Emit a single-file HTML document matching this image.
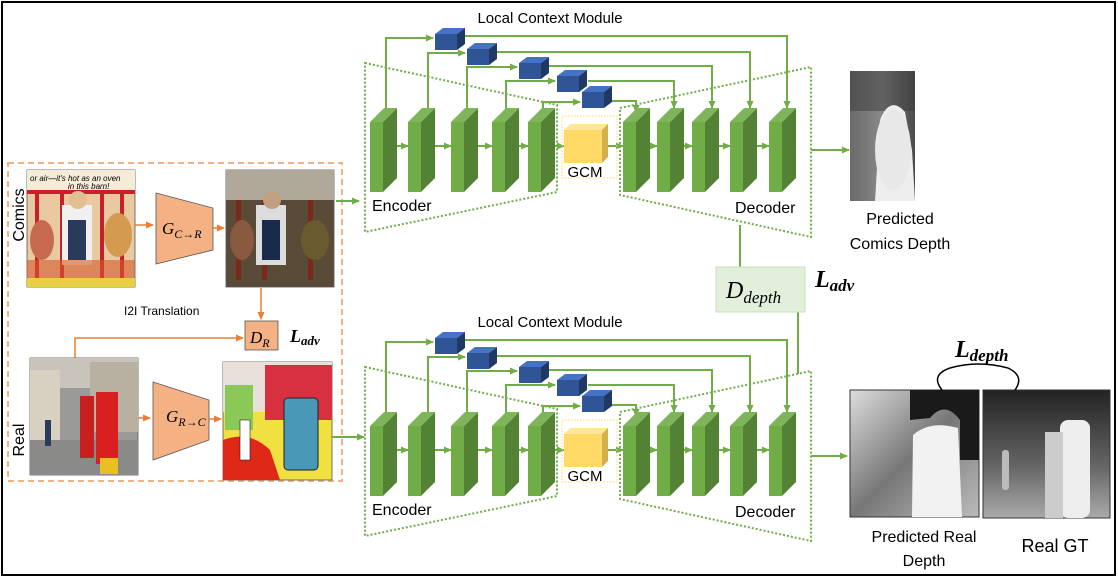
<!DOCTYPE html>
<html><head><meta charset="utf-8"><style>
html,body{margin:0;padding:0;background:#fff}
svg{display:block}
text{font-family:"Liberation Sans",sans-serif}
.m{font-family:"Liberation Serif",serif;font-style:italic;font-weight:bold}
</style></head><body>
<svg width="1118" height="578" viewBox="0 0 1118 578" xmlns="http://www.w3.org/2000/svg">
<defs>
<marker id="ag" markerWidth="8" markerHeight="8" refX="7" refY="4" orient="auto" markerUnits="userSpaceOnUse"><path d="M0,0.5 L8,4 L0,7.5z" fill="#70ad47"/></marker>
<marker id="ao" markerWidth="8" markerHeight="8" refX="7" refY="4" orient="auto" markerUnits="userSpaceOnUse"><path d="M0,0.5 L8,4 L0,7.5z" fill="#ed7d31"/></marker>
<g id="blk"><rect x="0" y="122" width="13" height="70" fill="#70ad47"/><polygon points="13,122 27,108 27,178 13,192" fill="#548235"/><polygon points="0,122 14,108 27,108 13,122" fill="#7fb55a"/></g>
<g id="lcm"><rect x="0" y="6" width="22" height="16" fill="#2f5597"/><polygon points="0,6 8,0 30,0 22,6" fill="#4472c4"/><polygon points="22,6 30,0 30,16 22,22" fill="#203864"/></g>
<g id="net">
<g stroke="#70ad47" stroke-width="2" fill="none" marker-end="url(#ag)">
<polyline points="386,112 386,38 433,38"/>
<polyline points="428,112 428,53 465,53"/>
<polyline points="467,112 467,67 517,67"/>
<polyline points="506,112 506,81 555,81"/>
<polyline points="543,112 543,102 580,102"/>
<polyline points="465,36 787,36 787,108"/>
<polyline points="497,52 750,52 750,108"/>
<polyline points="549,66 712,66 712,108"/>
<polyline points="588,81 674,81 674,108"/>
<polyline points="612,101 636,101 636,112"/>
<line x1="397" y1="146" x2="408" y2="146"/>
<line x1="435" y1="146" x2="451" y2="146"/>
<line x1="478" y1="146" x2="492" y2="146"/>
<line x1="519" y1="146" x2="528" y2="146"/>
<line x1="555" y1="146" x2="564" y2="146"/>
<line x1="607" y1="146" x2="623" y2="146"/>
<line x1="650" y1="146" x2="657" y2="146"/>
<line x1="684" y1="146" x2="692" y2="146"/>
<line x1="719" y1="146" x2="730" y2="146"/>
<line x1="757" y1="146" x2="769" y2="146"/>
</g>
<g stroke="#70ad47" stroke-width="2" fill="none" stroke-dasharray="2,2">
<polygon points="365,63 557,105 557,192 365,232"/>
<polygon points="620,108 811,67 811,237 620,195"/>
</g>
<use href="#blk" x="370"/><use href="#blk" x="408"/><use href="#blk" x="451"/><use href="#blk" x="492"/><use href="#blk" x="528"/>
<use href="#blk" x="623"/><use href="#blk" x="657"/><use href="#blk" x="692"/><use href="#blk" x="730"/><use href="#blk" x="769"/>
<rect x="562" y="116" width="55" height="62" fill="none" stroke="#ffd966" stroke-width="1" stroke-dasharray="1.5,1.5"/>
<rect x="564" y="130" width="38" height="33" fill="#ffd966"/>
<polygon points="564,130 570,124 608,124 602,130" fill="#ffe699"/>
<polygon points="602,130 608,124 608,157 602,163" fill="#d4b04c"/>
<use href="#lcm" x="435" y="28"/><use href="#lcm" x="467" y="43"/><use href="#lcm" x="519" y="57"/><use href="#lcm" x="557" y="70"/><use href="#lcm" x="582" y="86"/>
</g>
<linearGradient id="dg1" x1="0" y1="0" x2="1" y2="0"><stop offset="0" stop-color="#6a6a6a"/><stop offset="0.5" stop-color="#8a8a8a"/><stop offset="1" stop-color="#4a4a4a"/></linearGradient>
<linearGradient id="dg2" x1="0" y1="0" x2="1" y2="1"><stop offset="0" stop-color="#ddd"/><stop offset="0.5" stop-color="#777"/><stop offset="1" stop-color="#bbb"/></linearGradient>
<linearGradient id="dg3" x1="0" y1="0" x2="0" y2="1"><stop offset="0" stop-color="#222"/><stop offset="0.6" stop-color="#666"/><stop offset="1" stop-color="#aaa"/></linearGradient>
</defs>

<rect x="2" y="2" width="1113" height="573" fill="#fff" stroke="#000" stroke-width="2"/>

<use href="#net"/>
<use href="#net" y="304"/>

<text x="550" y="23" font-size="15" text-anchor="middle">Local Context Module</text>
<text x="550" y="327" font-size="15" text-anchor="middle">Local Context Module</text>
<text x="585" y="177" font-size="15" text-anchor="middle">GCM</text>
<text x="585" y="481" font-size="15" text-anchor="middle">GCM</text>
<text x="372" y="211" font-size="16">Encoder</text>
<text x="372" y="515" font-size="16">Encoder</text>
<text x="735" y="213" font-size="16">Decoder</text>
<text x="735" y="517" font-size="16">Decoder</text>

<line x1="811" y1="150" x2="849" y2="150" stroke="#70ad47" stroke-width="2" marker-end="url(#ag)"/>
<line x1="811" y1="456" x2="847" y2="456" stroke="#70ad47" stroke-width="2" marker-end="url(#ag)"/>
<rect x="850" y="71" width="65" height="130" fill="url(#dg1)"/>
<rect x="850" y="71" width="65" height="40" fill="#3a3a3a" opacity="0.5"/>
<path d="M875,201 L880,120 Q890,95 905,112 L912,150 L915,201z" fill="#eee"/>
<ellipse cx="893" cy="150" rx="18" ry="40" fill="#e8e8e8"/>
<text x="900" y="224" font-size="16" text-anchor="middle">Predicted</text>
<text x="900" y="249" font-size="16" text-anchor="middle">Comics Depth</text>

<rect x="850" y="390" width="129" height="127" fill="url(#dg2)" stroke="#333"/>
<path d="M910,390 L979,390 L979,460 L960,460 L960,420 Q945,400 930,418 L910,420z" fill="#1a1a1a"/>
<path d="M912,517 L913,435 Q930,420 958,428 L962,517z" fill="#f2f2f2"/>
<rect x="983" y="390" width="127" height="128" fill="url(#dg3)" stroke="#333"/>
<rect x="1060" y="420" width="30" height="98" rx="8" fill="#eee"/>
<rect x="1045" y="432" width="18" height="86" fill="#ccc"/>
<rect x="1002" y="450" width="7" height="40" rx="3" fill="#bbb"/>
<text x="924" y="542" font-size="16" text-anchor="middle">Predicted Real</text>
<text x="924" y="566" font-size="16" text-anchor="middle">Depth</text>
<text x="1055" y="552" font-size="18" text-anchor="middle">Real GT</text>
<path d="M942,390 Q930,375 950,368 Q978,360 1008,368 Q1025,376 1015,390" fill="none" stroke="#000" stroke-width="1.5"/>
<text x="955" y="357" class="m" font-size="24">L<tspan font-size="17" dy="4">depth</tspan></text>

<line x1="740" y1="225" x2="740" y2="267" stroke="#70ad47" stroke-width="2"/>
<line x1="798" y1="312" x2="798" y2="374" stroke="#70ad47" stroke-width="2"/>
<rect x="716" y="267" width="89" height="45" fill="#e2efda" stroke="#c5e0b4"/>
<text x="726" y="298" class="m" font-size="24" style="font-weight:normal">D<tspan font-size="17" dy="5">depth</tspan></text>
<text x="815" y="287" class="m" font-size="24">L<tspan font-size="17" dy="4">adv</tspan></text>

<rect x="8" y="163" width="334" height="318" fill="none" stroke="#f4b183" stroke-width="2" stroke-dasharray="6,4"/>
<text transform="translate(24,215) rotate(-90)" font-size="16" text-anchor="middle">Comics</text>
<text transform="translate(24,440) rotate(-90)" font-size="16" text-anchor="middle">Real</text>

<rect x="27" y="170" width="108" height="117" fill="#e8c9a0" stroke="#555" stroke-width="0.8"/>
<rect x="27" y="170" width="108" height="20" fill="#f5ecd8"/>
<text x="30" y="181" font-size="8" font-style="italic">or air—it's hot as an oven</text>
<text x="68" y="189" font-size="8" font-style="italic">in this barn!</text>
<rect x="27" y="278" width="108" height="9" fill="#e8d040"/>
<rect x="35" y="193" width="4" height="85" fill="#c8202a"/><rect x="60" y="193" width="4" height="85" fill="#c8202a"/><rect x="100" y="193" width="4" height="85" fill="#c8202a"/><rect x="120" y="193" width="4" height="85" fill="#c8202a"/>
<rect x="27" y="190" width="108" height="4" fill="#c8202a"/>
<ellipse cx="42" cy="240" rx="12" ry="20" fill="#c86a50"/><ellipse cx="118" cy="235" rx="14" ry="22" fill="#d49a50"/>
<rect x="62" y="205" width="30" height="60" fill="#f0f0f0"/><rect x="68" y="220" width="18" height="40" fill="#2a3a5a"/>
<circle cx="78" cy="200" r="9" fill="#e0c090"/>
<rect x="27" y="260" width="108" height="18" fill="#d45a2a" opacity="0.6"/>
<rect x="226" y="170" width="108" height="117" fill="#5a4a38" stroke="#555" stroke-width="0.8"/>
<rect x="226" y="170" width="108" height="30" fill="#b0a898"/>
<rect x="236" y="200" width="5" height="80" fill="#7a2a1a"/><rect x="262" y="200" width="5" height="80" fill="#7a2a1a"/><rect x="308" y="200" width="5" height="80" fill="#7a2a1a"/>
<ellipse cx="242" cy="240" rx="12" ry="20" fill="#8a5a40"/><ellipse cx="315" cy="240" rx="14" ry="20" fill="#6a5a30"/>
<rect x="256" y="205" width="30" height="60" fill="#dcdcdc"/><rect x="262" y="220" width="18" height="40" fill="#1a2a4a"/>
<circle cx="272" cy="200" r="9" fill="#c0a080"/>
<line x1="135" y1="225" x2="153" y2="225" stroke="#ed7d31" stroke-width="1.5" marker-end="url(#ao)"/>
<polygon points="156,193 213,208 213,250 156,264" fill="#f4b183" stroke="#555" stroke-width="0.8"/>
<text x="162" y="234" class="m" font-size="17" style="font-weight:normal">G<tspan font-size="12" dy="4">C→R</tspan></text>
<line x1="213" y1="228" x2="224" y2="228" stroke="#ed7d31" stroke-width="1.5" marker-end="url(#ao)"/>
<line x1="336" y1="201" x2="359" y2="201" stroke="#70ad47" stroke-width="2" marker-end="url(#ag)"/>

<text x="124" y="315" font-size="12">I2I Translation</text>
<line x1="261" y1="288" x2="261" y2="319" stroke="#ed7d31" stroke-width="1.5" marker-end="url(#ao)"/>
<polyline points="75,358 75,338 243,338" fill="none" stroke="#ed7d31" stroke-width="1.5" marker-end="url(#ao)"/>
<rect x="245" y="321" width="33" height="29" fill="#f4b183" stroke="#555" stroke-width="0.8"/>
<text x="250" y="343" class="m" font-size="17" style="font-weight:normal">D<tspan font-size="12" dy="4">R</tspan></text>
<text x="290" y="342" class="m" font-size="18">L<tspan font-size="13" dy="3">adv</tspan></text>

<rect x="30" y="358" width="108" height="117" fill="#9a9a98" stroke="#555" stroke-width="0.8"/>
<rect x="30" y="358" width="108" height="30" fill="#c8c4bc"/>
<rect x="30" y="370" width="30" height="70" fill="#d8d0c0"/><rect x="90" y="362" width="48" height="70" fill="#b8b0a0"/>
<rect x="30" y="440" width="108" height="35" fill="#8a8a88"/>
<rect x="80" y="396" width="14" height="62" fill="#c82020"/><rect x="96" y="392" width="22" height="72" fill="#d82020"/>
<rect x="100" y="458" width="18" height="16" fill="#e8c020"/>
<rect x="45" y="420" width="6" height="26" fill="#2a3a5a"/>
<line x1="138" y1="418" x2="150" y2="418" stroke="#ed7d31" stroke-width="1.5" marker-end="url(#ao)"/>
<polygon points="153,382 209,400 209,440 153,460" fill="#f4b183" stroke="#555" stroke-width="0.8"/>
<text x="166" y="422" class="m" font-size="17" style="font-weight:normal">G<tspan font-size="12" dy="4">R→C</tspan></text>
<line x1="209" y1="419" x2="221" y2="419" stroke="#ed7d31" stroke-width="1.5" marker-end="url(#ao)"/>
<rect x="223" y="362" width="109" height="118" fill="#f0e040" stroke="#555" stroke-width="0.8"/>
<rect x="223" y="362" width="109" height="50" fill="#e8e0d8"/>
<rect x="265" y="365" width="67" height="55" fill="#d83040"/>
<rect x="225" y="385" width="28" height="45" fill="#8ac858"/>
<path d="M223,440 Q250,430 270,450 L280,480 L223,480z" fill="#e02818"/>
<rect x="284" y="398" width="34" height="72" rx="4" fill="#4a98b8" stroke="#222"/>
<rect x="240" y="420" width="10" height="40" fill="#fff" stroke="#222" stroke-width="0.6"/>
<line x1="332" y1="437" x2="364" y2="437" stroke="#70ad47" stroke-width="2" marker-end="url(#ag)"/>
</svg>
</body></html>
